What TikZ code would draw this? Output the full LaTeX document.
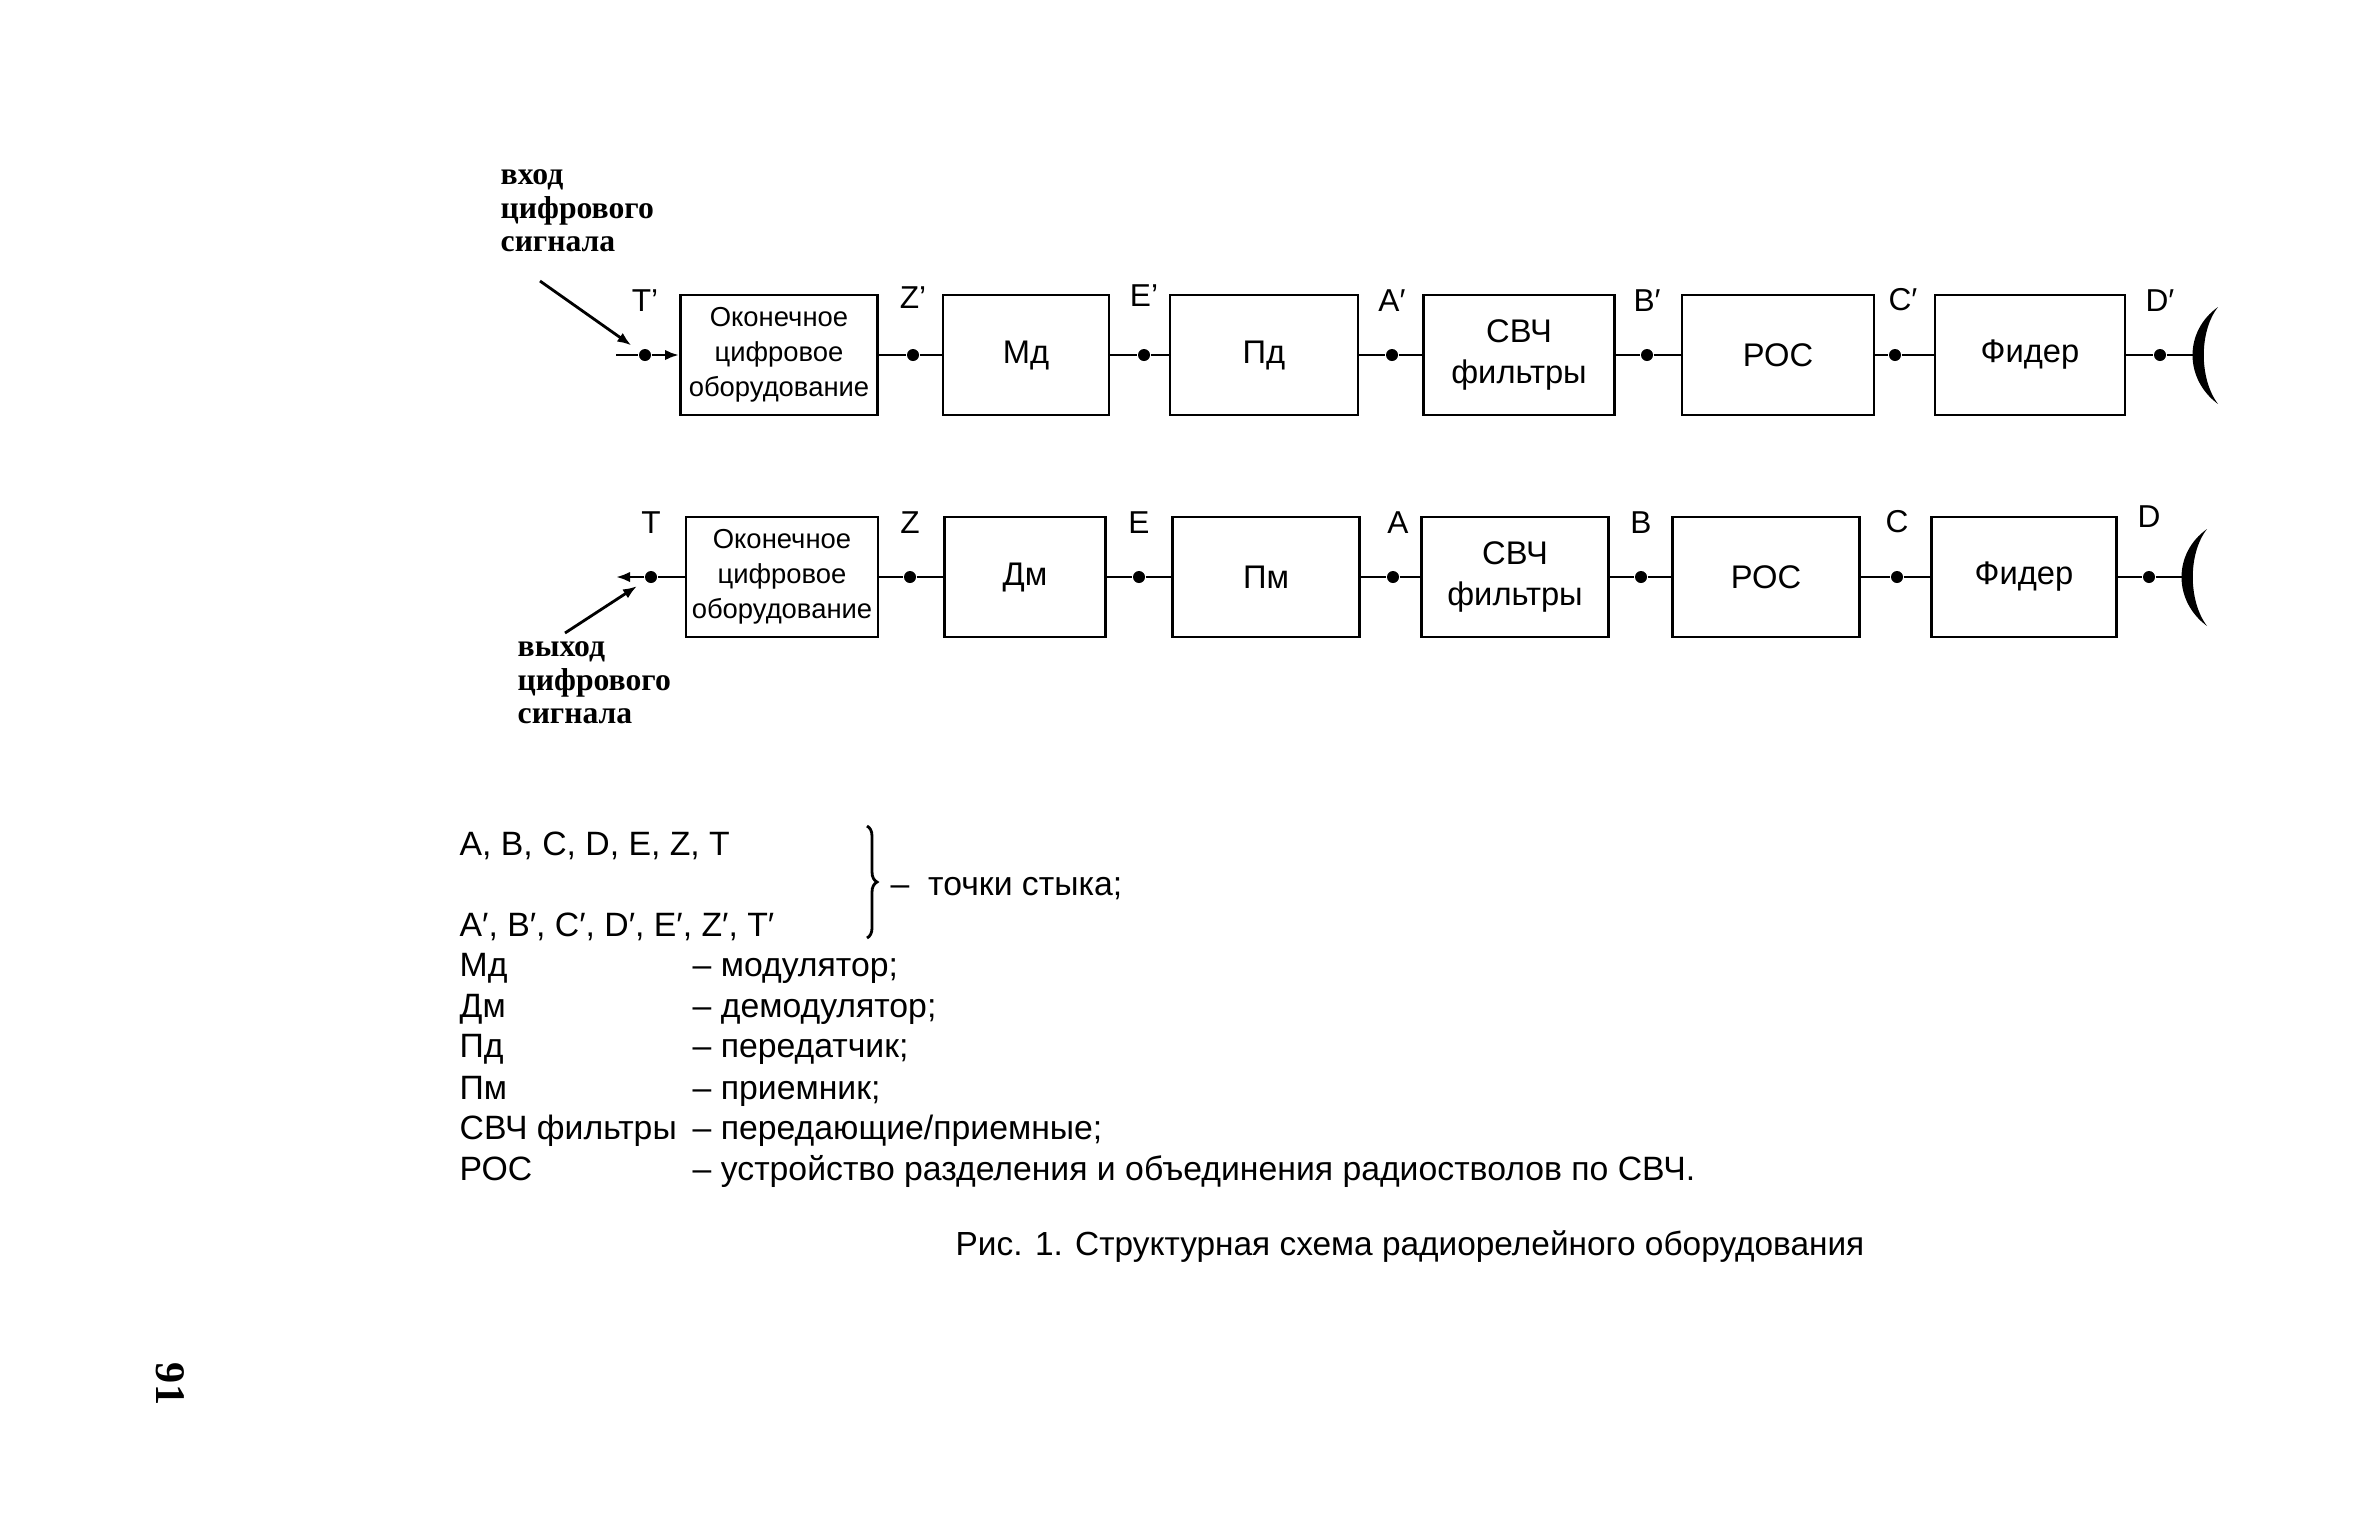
\documentclass[tikz,border=0pt]{standalone}
\usepackage{fontspec}
\setmainfont{Liberation Sans}
\newfontfamily\serifbold{Liberation Serif}
\usetikzlibrary{positioning,arrows.meta,decorations.pathreplacing}

\begin{document}
\begin{tikzpicture}[x=0.01cm, y=-0.01cm, node distance=0.33cm]
                \tikzset{blok/.style={draw, thick, minimum height=1.2cm, inner sep=1pt, align=center, font=\fontsize{9.3}{11.7}\selectfont},
                         tochka/.style={circle, fill, inner sep=0pt, minimum size=0.12cm},
                         metka/.style={font=\fontsize{9}{10}\selectfont, inner sep=1pt},
                         legenda/.style={anchor=base west, inner sep=0pt, font=\fontsize{9.6}{11}\selectfont},
                         podpis/.style={align=left, anchor=north west, inner sep=0pt, font=\serifbold\bfseries\fontsize{9}{9.5}\selectfont}}
                \useasboundingbox (0,0) rectangle (2373,1517);
                % peredayushchaya chast
                \node[blok, minimum width=1.97cm, font=\fontsize{7.8}{10}\selectfont] (OCO1) at (779,355) {Оконечное\\цифровое\\оборудование};
                \node[blok, minimum width=1.66cm] (Md) at (1026,355) {Мд};
                \node[blok, minimum width=1.88cm] (Pd) at (1264,355) {Пд};
                \node[blok, minimum width=1.91cm] (SVCh1) at (1519,355) {СВЧ\\фильтры};
                \node[blok, minimum width=1.92cm] (ROS1) at (1778,355) {РОС};
                \node[blok, minimum width=1.90cm] (F1) at (2030,355) {Фидер};
                \node[tochka] (T1) at (645,355) {};
                \node[tochka] (Z1) at (913,355) {};
                \node[tochka] (E1) at (1144,355) {};
                \node[tochka] (A1) at (1392,355) {};
                \node[tochka] (B1) at (1647,355) {};
                \node[tochka] (C1) at (1895,355) {};
                \node[tochka] (D1) at (2160,355) {};
                \node[metka, above=of T1] (lT1) {T'};
                \node[metka, above=0.36cm of Z1] (lZ1) {Z'};
                \node[metka, above=0.38cm of E1] (lE1) {E'};
                \node[metka, above=of A1] (lA1) {A′};
                \node[metka, above=of B1] (lB1) {B′};
                \node[metka, above=of C1, xshift=0.08cm] (lC1) {C′};
                \node[metka, above=of D1] (lD1) {D′};
                \coordinate (in1) at (616,355);
                \coordinate (ant1) at (2193,355);
                \path[thick]
                    (in1) edge (T1)
                    (T1) edge[-{Latex[length=0.14cm]}] (OCO1)
                    (OCO1) edge (Z1)
                    (Z1) edge (Md)
                    (Md) edge (E1)
                    (E1) edge (Pd)
                    (Pd) edge (A1)
                    (A1) edge (SVCh1)
                    (SVCh1) edge (B1)
                    (B1) edge (ROS1)
                    (ROS1) edge (C1)
                    (C1) edge (F1)
                    (F1) edge (D1)
                    (D1) edge (ant1);
                \fill (2218,307) .. controls (2184,331) and (2184,379) .. (2218,404) .. controls (2199,379) and (2199,331) .. (2218,307) -- cycle;
                % priemnaya chast
                \node[blok, minimum width=1.92cm, font=\fontsize{7.8}{10}\selectfont] (OCO2) at (782,577) {Оконечное\\цифровое\\оборудование};
                \node[blok, minimum width=1.61cm] (Dm) at (1025,577) {Дм};
                \node[blok, minimum width=1.87cm] (Pm) at (1266,577) {Пм};
                \node[blok, minimum width=1.87cm] (SVCh2) at (1515,577) {СВЧ\\фильтры};
                \node[blok, minimum width=1.87cm] (ROS2) at (1766,577) {РОС};
                \node[blok, minimum width=1.85cm] (F2) at (2024,577) {Фидер};
                \node[tochka] (T2) at (651,577) {};
                \node[tochka] (Z2) at (910,577) {};
                \node[tochka] (E2) at (1139,577) {};
                \node[tochka] (A2) at (1393,577) {};
                \node[tochka] (B2) at (1641,577) {};
                \node[tochka] (C2) at (1897,577) {};
                \node[tochka] (D2) at (2149,577) {};
                \node[metka, above=of T2] (lT2) {T};
                \node[metka, above=of Z2] (lZ2) {Z};
                \node[metka, above=of E2] (lE2) {E};
                \node[metka, above=of A2, xshift=0.05cm] (lA2) {A};
                \node[metka, above=of B2] (lB2) {B};
                \node[metka, above=of C2] (lC2) {C};
                \node[metka, above=0.39cm of D2] (lD2) {D};
                \coordinate (out2) at (616,577);
                \coordinate (ant2) at (2182,577);
                \path[thick]
                    (T2) edge[-{Latex[length=0.14cm]}] (out2)
                    (OCO2) edge (T2)
                    (OCO2) edge (Z2)
                    (Z2) edge (Dm)
                    (Dm) edge (E2)
                    (E2) edge (Pm)
                    (Pm) edge (A2)
                    (A2) edge (SVCh2)
                    (SVCh2) edge (B2)
                    (B2) edge (ROS2)
                    (ROS2) edge (C2)
                    (C2) edge (F2)
                    (F2) edge (D2)
                    (D2) edge (ant2);
                \fill (2207,529) .. controls (2173,553) and (2173,601) .. (2207,626) .. controls (2188,601) and (2188,553) .. (2207,529) -- cycle;
                % vhod i vyhod
                \node[podpis] (vhod) at (500,169) {вход\\цифрового\\сигнала};
                \node[podpis] (vyhod) at (517,641) {выход\\цифрового\\сигнала};
                \coordinate (vhodA) at (540,281);
                \coordinate (vyhodA) at (565,633);
                \draw[thick, -{Latex[length=0.14cm]}, shorten >=0.1cm] (vhodA) -- (T1);
                \draw[thick, -{Latex[length=0.14cm]}, shorten >=0.1cm] (vyhodA) -- (T2);
                % oboznacheniya
                \node[legenda] (L1) at (459,855) {A, B, C, D, E, Z, T};
                \node[legenda] (L2) at (459,936) {A′, B′, C′, D′, E′, Z′, T′};
                \draw[thick, decorate, decoration={brace, amplitude=0.1cm}] (867,826) -- (867,938);
                \node[legenda] (L3) at (890,895) {– \ точки стыка;};
                \node[legenda] (L4) at (459,976) {Мд};
                \node[legenda] (L4a) at (692,976) {– модулятор;};
                \node[legenda] (L5) at (459,1017) {Дм};
                \node[legenda] (L5a) at (692,1017) {– демодулятор;};
                \node[legenda] (L6) at (459,1057) {Пд};
                \node[legenda] (L6a) at (692,1057) {– передатчик;};
                \node[legenda] (L7) at (459,1099) {Пм};
                \node[legenda] (L7a) at (692,1099) {– приемник;};
                \node[legenda] (L8) at (459,1139) {СВЧ фильтры};
                \node[legenda] (L8a) at (692,1139) {– передающие/приемные;};
                \node[legenda] (L9) at (459,1180) {РОС};
                \node[legenda] (L9a) at (692,1180) {– устройство разделения и объединения радиостволов по СВЧ.};
                \node[font=\fontsize{9.5}{11}\selectfont] (ris) at (1410,1247) {Рис. 1. Структурная схема радиорелейного оборудования};
                \node[rotate=-90, font=\serifbold\bfseries\fontsize{12}{12}\selectfont] (str) at (170,1384) {91};
            \end{tikzpicture}
\end{document}
